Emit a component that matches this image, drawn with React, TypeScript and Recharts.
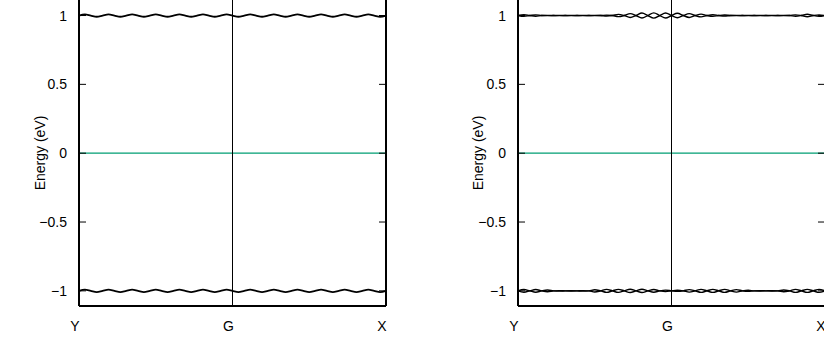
import React from "react";
import { LineChart, Line, XAxis, YAxis, ReferenceLine } from "recharts";

// k-path: Y -> G -> X, 53 samples
const kTicks = [0, 26, 52];
const kLabels = ["Y", "G", "X"];

const yTicks = [-1, -0.5, 0, 0.5, 1];
const yLabels = ["\u22121", "\u22120.5", "0", "0.5", "1"];

// left panel: one band near +1 and one near -1
const leftUpper = [
  1.0, 1.009, 1.0, 0.991, 1.0, 1.009, 1.0, 0.991, 1.0, 1.009, 1.0, 0.991,
  1.0, 1.009, 1.0, 0.991, 1.0, 1.009, 1.0, 0.991, 1.0, 1.009, 1.0, 0.991,
  1.0, 1.009, 1.0, 0.991, 1.0, 1.009, 1.0, 0.991, 1.0, 1.009, 1.0, 0.991,
  1.0, 1.009, 1.0, 0.991, 1.0, 1.009, 1.0, 0.991, 1.0, 1.009, 1.0, 0.991,
  1.0, 1.009, 1.0, 0.991, 1.0,
];
const leftLower = [
  -1.0, -0.991, -1.0, -1.009, -1.0, -0.991, -1.0, -1.009, -1.0, -0.991, -1.0, -1.009,
  -1.0, -0.991, -1.0, -1.009, -1.0, -0.991, -1.0, -1.009, -1.0, -0.991, -1.0, -1.009,
  -1.0, -0.991, -1.0, -1.009, -1.0, -0.991, -1.0, -1.009, -1.0, -0.991, -1.0, -1.009,
  -1.0, -0.991, -1.0, -1.009, -1.0, -0.991, -1.0, -1.009, -1.0, -0.991, -1.0, -1.009,
  -1.0, -0.991, -1.0, -1.009, -1.0,
];

// right panel: two split bands near +1 and two near -1
const rightUpperA = [
  1.0, 1.006, 1.0, 0.995, 1.0, 1.001, 1.0, 0.999, 1.0, 1.001, 1.0, 0.999,
  1.0, 1.001, 1.0, 0.997, 1.0, 1.008, 1.0, 0.986, 1.0, 1.018, 1.0, 0.981,
  1.0, 1.018, 1.0, 0.984, 1.0, 1.014, 1.0, 0.99, 1.0, 1.006, 1.0, 0.996,
  1.0, 1.001, 1.0, 0.999, 1.0, 1.001, 1.0, 0.999, 1.0, 1.001, 1.0, 0.995,
  1.0, 1.009, 1.0, 0.995, 1.0,
];
const rightUpperB = [
  1.0, 0.994, 1.0, 1.005, 1.0, 0.999, 1.0, 1.001, 1.0, 0.999, 1.0, 1.001,
  1.0, 0.999, 1.0, 1.003, 1.0, 0.992, 1.0, 1.014, 1.0, 0.982, 1.0, 1.019,
  1.0, 0.982, 1.0, 1.016, 1.0, 0.986, 1.0, 1.01, 1.0, 0.994, 1.0, 1.004,
  1.0, 0.999, 1.0, 1.001, 1.0, 0.999, 1.0, 1.001, 1.0, 0.999, 1.0, 1.005,
  1.0, 0.991, 1.0, 1.005, 1.0,
];
const rightLowerA = [
  -1.0, -0.99, -1.0, -1.01, -1.0, -0.994, -1.0, -1.002, -1.0, -0.999, -1.0, -1.002,
  -1.0, -0.992, -1.0, -1.011, -1.0, -0.989, -1.0, -1.012, -1.0, -0.988, -1.0, -1.01,
  -1.0, -0.995, -1.0, -1.004, -1.0, -0.991, -1.0, -1.011, -1.0, -0.989, -1.0, -1.011,
  -1.0, -0.991, -1.0, -1.004, -1.0, -0.999, -1.0, -1.001, -1.0, -0.994, -1.0, -1.011,
  -1.0, -0.989, -1.0, -1.011, -1.0,
];
const rightLowerB = [
  -1.0, -1.01, -1.0, -0.99, -1.0, -1.006, -1.0, -0.998, -1.0, -1.001, -1.0, -0.998,
  -1.0, -1.008, -1.0, -0.989, -1.0, -1.011, -1.0, -0.988, -1.0, -1.012, -1.0, -0.99,
  -1.0, -1.005, -1.0, -0.996, -1.0, -1.009, -1.0, -0.989, -1.0, -1.011, -1.0, -0.989,
  -1.0, -1.009, -1.0, -0.996, -1.0, -1.001, -1.0, -0.999, -1.0, -1.006, -1.0, -0.989,
  -1.0, -1.011, -1.0, -0.989, -1.0,
];

const FONT = "'Liberation Sans', Arial, Helvetica, sans-serif";
const FS = 14;

const leftData = leftUpper.map((v, i) => ({ k: i, b0: v, b1: leftLower[i] }));
const rightData = rightUpperA.map((v, i) => ({
  k: i,
  b0: v,
  b1: rightUpperB[i],
  b2: rightLowerA[i],
  b3: rightLowerB[i],
}));

const LeftTick = (props: any) => {
  const { x, y, payload } = props;
  const idx = yTicks.indexOf(payload.value);
  return (
    <g>
      <line x1={x} x2={x + 7} y1={y} y2={y} stroke="#000" strokeWidth={1} />
      <text x={x - 12} y={y + 5} textAnchor="end" fontSize={FS} fontFamily={FONT} fill="#000">
        {yLabels[idx]}
      </text>
    </g>
  );
};

const RightTick = (props: any) => {
  const { x, y } = props;
  return <line x1={x} x2={x - 7} y1={y} y2={y} stroke="#000" strokeWidth={1} />;
};

const BottomTick = (props: any) => {
  const { x, y, payload } = props;
  const idx = kTicks.indexOf(payload.value);
  return (
    <text x={x - 4} y={y + 25} textAnchor="middle" fontSize={FS} fontFamily={FONT} fill="#000">
      {kLabels[idx]}
    </text>
  );
};

function Panel({ data, keys }: { data: any[]; keys: string[] }) {
  // plot box: x 79..386 inside a 412 wide chart
  return (
    <LineChart width={412} height={342} data={data} margin={{ top: 0, right: 25, bottom: 0, left: 0 }}>
      <XAxis
        dataKey="k"
        type="number"
        domain={[0, 52]}
        ticks={kTicks}
        interval={0}
        tickLine={false}
        tickSize={0}
        tickMargin={0}
        tick={<BottomTick />}
        height={34}
        axisLine={{ stroke: "#000", strokeWidth: 2 }}
      />
      <XAxis
        xAxisId="top"
        orientation="top"
        dataKey="k"
        type="number"
        domain={[0, 52]}
        ticks={kTicks}
        tick={false}
        tickLine={false}
        height={1}
        axisLine={{ stroke: "#000", strokeWidth: 2 }}
      />
      <YAxis
        type="number"
        domain={[-1.11, 1.12]}
        ticks={yTicks}
        interval={0}
        allowDataOverflow
        width={79}
        tickLine={false}
        tickSize={0}
        tickMargin={0}
        tick={<LeftTick />}
        axisLine={{ stroke: "#000", strokeWidth: 2 }}
      />
      <YAxis
        yAxisId="r"
        orientation="right"
        type="number"
        domain={[-1.11, 1.12]}
        ticks={yTicks}
        interval={0}
        allowDataOverflow
        width={1}
        tickLine={false}
        tickSize={0}
        tickMargin={0}
        tick={<RightTick />}
        axisLine={{ stroke: "#000", strokeWidth: 2 }}
      />
      <ReferenceLine y={0} stroke="#009e73" strokeWidth={1.2} />
      {keys.map((key) => (
        <Line
          key={key}
          dataKey={key}
          type="monotone"
          stroke="#000"
          strokeWidth={keys.length > 2 ? 1.4 : 1.8}
          dot={false}
          activeDot={false}
          isAnimationActive={false}
        />
      ))}
      <ReferenceLine x={26} stroke="#000" strokeWidth={1} />
    </LineChart>
  );
}

const axisLabel = (left: number) => (
  <div
    style={{
      position: "absolute",
      left,
      top: 155,
      transform: "translate(-50%, -50%) rotate(-90deg)",
      whiteSpace: "nowrap",
      fontSize: FS,
      fontFamily: FONT,
      color: "#000",
    }}
  >
    Energy (eV)
  </div>
);

export default function App() {
  return (
    <div style={{ position: "absolute", left: 0, top: -2, width: 824, height: 343, overflow: "hidden", background: "#fff" }}>
      <div style={{ position: "absolute", left: 0, top: 0 }}>
        <Panel data={leftData} keys={["b0", "b1"]} />
      </div>
      <div style={{ position: "absolute", left: 439, top: 0 }}>
        <Panel data={rightData} keys={["b0", "b1", "b2", "b3"]} />
      </div>
      {axisLabel(40)}
      {axisLabel(478)}
    </div>
  );
}
